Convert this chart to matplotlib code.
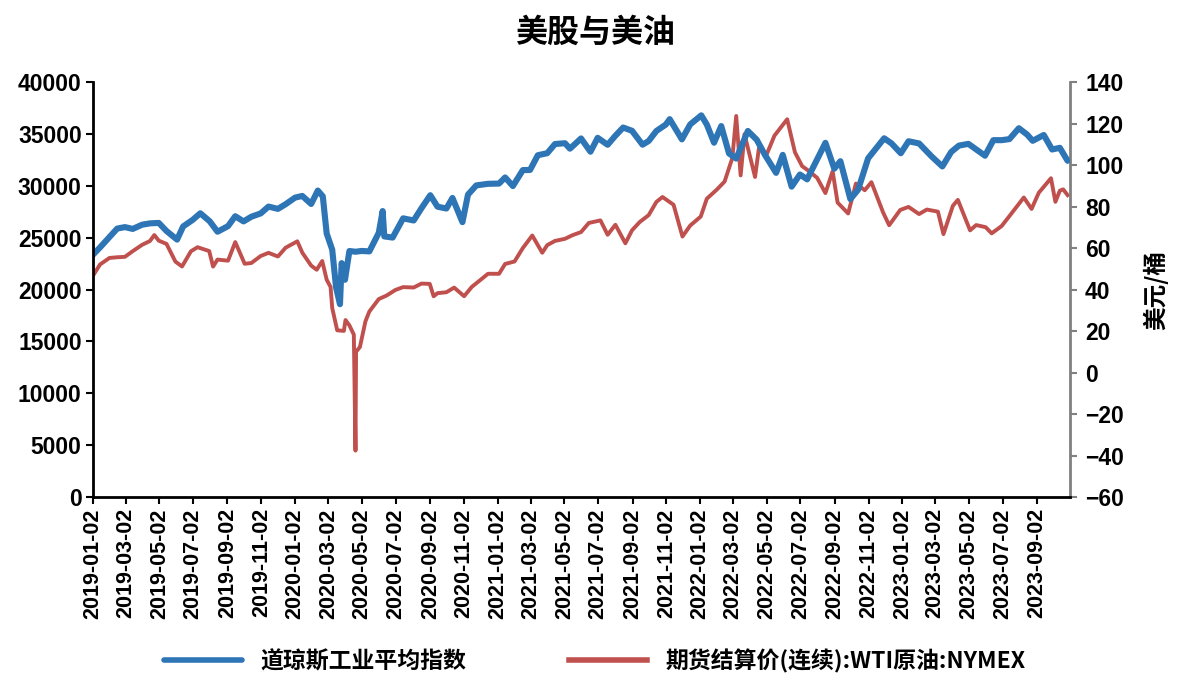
import matplotlib
matplotlib.use("Agg")
import matplotlib.pyplot as plt
import matplotlib.dates as mdates
import pandas as pd

plt.rcParams['font.family'] = ['Noto Sans CJK SC', 'DejaVu Sans']
plt.rcParams['axes.unicode_minus'] = True

# 道琼斯工业平均指数
dow_dates = [
    "2019-01-02", "2019-01-15", "2019-02-01", "2019-02-15", "2019-03-01", "2019-03-15",
    "2019-04-01", "2019-04-15", "2019-05-01", "2019-05-15", "2019-06-03", "2019-06-14",
    "2019-07-01", "2019-07-15", "2019-08-01", "2019-08-15", "2019-09-03", "2019-09-16",
    "2019-10-01", "2019-10-15", "2019-11-01", "2019-11-15", "2019-12-02", "2019-12-16",
    "2020-01-02", "2020-01-15", "2020-01-31", "2020-02-12", "2020-02-21", "2020-02-28",
    "2020-03-09", "2020-03-16", "2020-03-23", "2020-03-26", "2020-04-01", "2020-04-09",
    "2020-04-20", "2020-05-01", "2020-05-15", "2020-06-01", "2020-06-08", "2020-06-11",
    "2020-06-26", "2020-07-15", "2020-08-03", "2020-08-17", "2020-09-02", "2020-09-15",
    "2020-10-01", "2020-10-12", "2020-10-30", "2020-11-09", "2020-11-24", "2020-12-15",
    "2021-01-04", "2021-01-15", "2021-01-29", "2021-02-16", "2021-03-01", "2021-03-15",
    "2021-04-01", "2021-04-15", "2021-05-03", "2021-05-12", "2021-06-01", "2021-06-18",
    "2021-07-01", "2021-07-19", "2021-08-02", "2021-08-16", "2021-09-01", "2021-09-20",
    "2021-10-01", "2021-10-15", "2021-11-01", "2021-11-08", "2021-11-30", "2021-12-15",
    "2022-01-04", "2022-01-14", "2022-01-27", "2022-02-09", "2022-02-23", "2022-03-08",
    "2022-03-29", "2022-04-14", "2022-04-29", "2022-05-19", "2022-05-31", "2022-06-16",
    "2022-07-01", "2022-07-14", "2022-08-16", "2022-09-01", "2022-09-12", "2022-09-30",
    "2022-10-14", "2022-11-01", "2022-11-30", "2022-12-13", "2022-12-30", "2023-01-13",
    "2023-02-01", "2023-02-24", "2023-03-15", "2023-03-31", "2023-04-14", "2023-05-01",
    "2023-05-31", "2023-06-15", "2023-06-30", "2023-07-14", "2023-07-31", "2023-08-15",
    "2023-08-25", "2023-09-14", "2023-09-29", "2023-10-13", "2023-10-27",
]
dow_values = [
    23346, 24065, 25064, 25883, 26026, 25849,
    26258, 26384, 26430, 25648, 24820, 26090,
    26717, 27359, 26583, 25579, 26118, 27076,
    26573, 27024, 27347, 28005, 27783, 28235,
    28868, 29030, 28256, 29551, 28992, 25409,
    23851, 20189, 18592, 22552, 20944, 23719,
    23650, 23724, 23685, 25475, 27572, 25128,
    25016, 26870, 26664, 27844, 29100, 27995,
    27817, 28838, 26502, 29158, 30046, 30199,
    30224, 30814, 29983, 31523, 31535, 32953,
    33153, 34035, 34113, 33587, 34575, 33290,
    34633, 33962, 34838, 35625, 35312, 33970,
    34326, 35295, 35913, 36432, 34484, 35927,
    36799, 35911, 34160, 35768, 33132, 32632,
    35294, 34451, 32977, 31253, 32990, 29927,
    31097, 30630, 34152, 31656, 32381, 28725,
    29634, 32653, 34590, 34108, 33147, 34302,
    34092, 32817, 31874, 33274, 33886, 34051,
    32908, 34408, 34407, 34509, 35559, 34946,
    34346, 34907, 33507, 33670, 32418,
]

# 期货结算价(连续):WTI原油:NYMEX
wti_dates = [
    "2019-01-02", "2019-01-15", "2019-02-01", "2019-02-15", "2019-03-01", "2019-03-15",
    "2019-04-01", "2019-04-15", "2019-04-23", "2019-05-01", "2019-05-15", "2019-05-31",
    "2019-06-12", "2019-06-28", "2019-07-10", "2019-07-31", "2019-08-07", "2019-08-15",
    "2019-09-03", "2019-09-16", "2019-10-01", "2019-10-03", "2019-10-15", "2019-11-01",
    "2019-11-15", "2019-12-02", "2019-12-16", "2020-01-06", "2020-01-15", "2020-01-31",
    "2020-02-10", "2020-02-20", "2020-02-28", "2020-03-06", "2020-03-09", "2020-03-18",
    "2020-03-30", "2020-04-02", "2020-04-09", "2020-04-17", "2020-04-20", "2020-04-21",
    "2020-04-28", "2020-05-08", "2020-05-15", "2020-06-01", "2020-06-15", "2020-07-01",
    "2020-07-15", "2020-08-03", "2020-08-17", "2020-09-01", "2020-09-08", "2020-09-15",
    "2020-10-01", "2020-10-15", "2020-11-02", "2020-11-16", "2020-12-01", "2020-12-15",
    "2021-01-04", "2021-01-15", "2021-02-01", "2021-02-16", "2021-03-05", "2021-03-23",
    "2021-04-01", "2021-04-15", "2021-05-03", "2021-05-17", "2021-06-01", "2021-06-15",
    "2021-07-06", "2021-07-19", "2021-08-02", "2021-08-20", "2021-09-01", "2021-09-15",
    "2021-10-01", "2021-10-15", "2021-10-26", "2021-11-15", "2021-12-01", "2021-12-15",
    "2022-01-03", "2022-01-14", "2022-02-01", "2022-02-15", "2022-03-01", "2022-03-08",
    "2022-03-16", "2022-03-23", "2022-04-11", "2022-04-18", "2022-05-02", "2022-05-16",
    "2022-06-08", "2022-06-22", "2022-07-05", "2022-07-15", "2022-08-01", "2022-08-16",
    "2022-08-29", "2022-09-07", "2022-09-26", "2022-10-10", "2022-10-26", "2022-11-07",
    "2022-11-28", "2022-12-09", "2022-12-29", "2023-01-13", "2023-02-01", "2023-02-15",
    "2023-03-07", "2023-03-17", "2023-04-03", "2023-04-12", "2023-05-04", "2023-05-15",
    "2023-06-01", "2023-06-12", "2023-06-30", "2023-07-14", "2023-08-09", "2023-08-23",
    "2023-09-05", "2023-09-27", "2023-10-05", "2023-10-13", "2023-10-19", "2023-10-27",
]
wti_values = [
    46.54, 52.11, 55.26, 55.59, 55.80, 58.52,
    61.59, 63.40, 66.30, 63.60, 62.02, 53.50,
    51.14, 58.47, 60.43, 58.58, 51.09, 54.47,
    53.94, 62.90, 53.62, 52.45, 52.81, 56.20,
    57.72, 55.96, 60.21, 63.27, 57.81, 51.56,
    49.57, 53.78, 44.76, 41.28, 31.13, 20.37,
    20.09, 25.32, 22.76, 18.27, -37.63, 10.01,
    12.34, 24.74, 29.43, 35.44, 37.12, 39.82,
    41.20, 41.01, 42.89, 42.76, 36.76, 38.28,
    38.72, 40.96, 36.81, 41.34, 44.55, 47.62,
    47.62, 52.36, 53.55, 60.05, 66.09, 57.76,
    61.45, 63.46, 64.49, 66.27, 67.72, 72.12,
    73.37, 66.42, 71.26, 62.32, 68.59, 72.61,
    75.88, 82.28, 84.65, 80.88, 65.57, 70.87,
    75.21, 83.82, 88.20, 92.07, 103.41, 123.70,
    95.04, 114.93, 94.29, 108.21, 105.17, 114.20,
    122.11, 106.19, 99.50, 97.59, 93.89, 86.53,
    97.01, 81.94, 76.71, 91.13, 87.91, 91.79,
    77.24, 71.02, 78.40, 79.86, 76.41, 78.59,
    77.58, 66.74, 80.42, 83.26, 68.56, 71.11,
    70.10, 67.12, 70.64, 75.42, 84.40, 78.89,
    86.69, 93.68, 82.31, 87.69, 88.32, 85.54,
]

# x ticks: the 2nd day of every other month
tick_dates = pd.date_range("2019-01-01", "2023-09-01", freq="2MS") + pd.Timedelta(days=1)

fig = plt.figure(figsize=(11.9, 6.79), dpi=100)
ax = fig.add_axes([0.078, 0.268, 0.821, 0.611])
ax2 = ax.twinx()

l1, = ax.plot(pd.to_datetime(dow_dates), dow_values, color="#2E75B6", lw=4.4,
              solid_capstyle="round", solid_joinstyle="round", label="道琼斯工业平均指数")
l2, = ax2.plot(pd.to_datetime(wti_dates), wti_values, color="#C0504D", lw=2.8,
               solid_joinstyle="round", label="期货结算价(连续):WTI原油:NYMEX")
ax.set_zorder(ax2.get_zorder() + 1)
ax.patch.set_visible(False)

ax.set_ylim(0, 40000)
ax.set_yticks(range(0, 40001, 5000))
ax2.set_ylim(-60, 140)
ax2.set_yticks(range(-60, 141, 20))
ax.set_xlim(pd.Timestamp("2019-01-02"), pd.Timestamp("2023-10-31"))
ax.set_xticks(tick_dates)
ax.xaxis.set_major_formatter(mdates.DateFormatter("%Y-%m-%d"))
plt.setp(ax.get_xticklabels(), rotation=90, fontsize=15.5, family="Liberation Sans", weight="bold")

for t in ax.get_yticklabels() + ax2.get_yticklabels():
    t.set_fontsize(16.5)
    t.set_family("Liberation Sans")
    t.set_weight("bold")

ax.tick_params(axis="both", direction="out", length=5, width=1.5, colors="black", pad=3)
ax2.tick_params(axis="y", direction="out", length=5, width=1.5, color="#808080",
                labelcolor="black", pad=6)
ax.spines["top"].set_visible(False)
ax.spines["right"].set_visible(False)
ax2.spines["top"].set_visible(False)
ax2.spines["left"].set_visible(False)
ax2.spines["bottom"].set_visible(False)
ax2.spines["right"].set_color("#808080")
ax2.spines["right"].set_linewidth(2)
ax.spines["left"].set_linewidth(2)
ax.spines["bottom"].set_linewidth(2)

ax2.set_ylabel("美元/桶", fontsize=17, fontweight="bold", labelpad=14)
fig.suptitle("美股与美油", fontsize=23, y=0.975, fontweight="bold")

leg = fig.legend(handles=[l1, l2], loc="lower center", bbox_to_anchor=(0.5, -0.022), ncol=2,
                 frameon=False, handlelength=3.4, columnspacing=4.5,
                 prop={"size": 16.5, "weight": "bold"})
for h in leg.get_lines():
    h.set_linewidth(4)

plt.savefig("out.png", dpi=100)
